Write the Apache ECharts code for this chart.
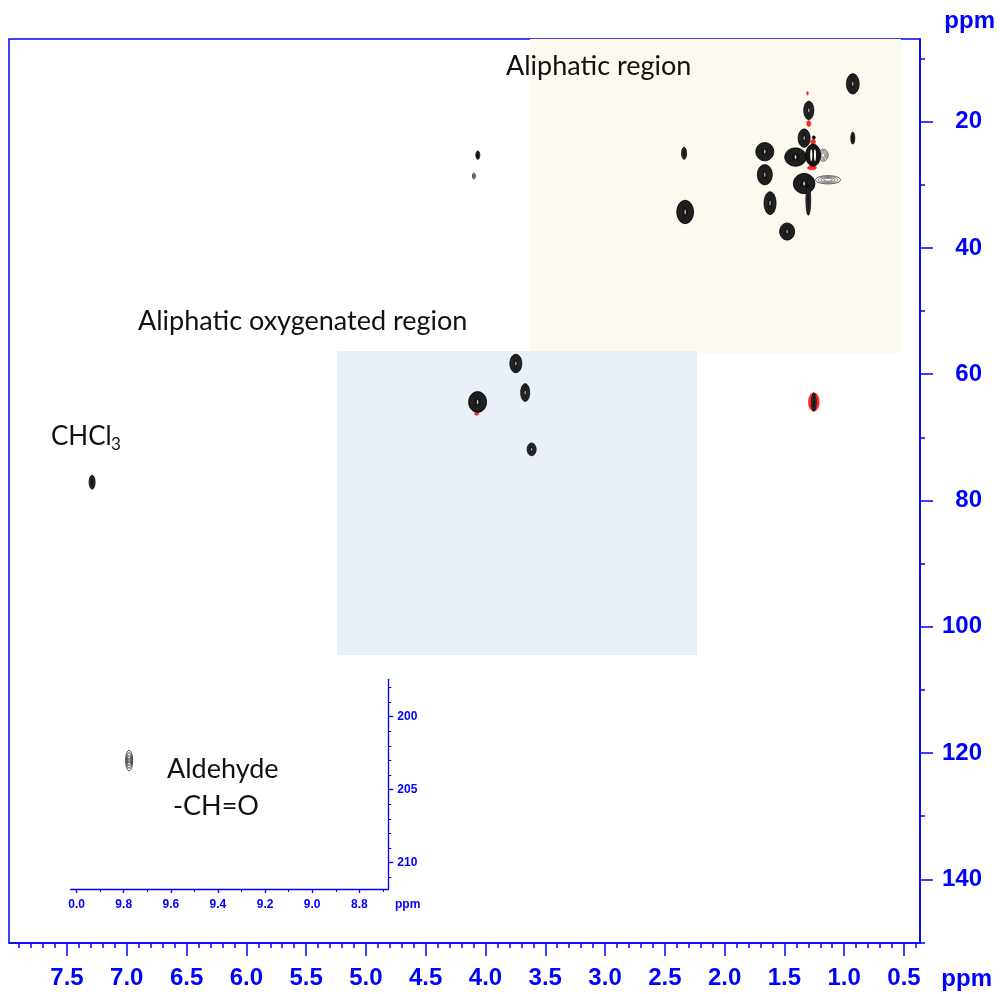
<!DOCTYPE html>
<html>
<head>
<meta charset="utf-8">
<title>HSQC spectrum</title>
<script src="https://cdn.jsdelivr.net/npm/echarts@6/dist/echarts.min.js"></script>
<style>
  html, body { margin: 0; padding: 0; background: #fff; }
  #chart { width: 1000px; height: 994px; }
</style>
</head>
<body>
<div id="chart"></div>
<script>
// ---- Axis ranges (ppm) ----
const hRange = [0.366, 7.985];          // 1H, main panel
const cRange = [6.9, 150.09];           // 13C, main panel
const hTicks = [0.5, 1.0, 1.5, 2.0, 2.5, 3.0, 3.5, 4.0, 4.5, 5.0, 5.5, 6.0, 6.5, 7.0, 7.5];
const cTicks = [20, 40, 60, 80, 100, 120, 140];
const cMinorTicks = [10, 30, 50, 70, 90, 110, 130, 150];

const hRangeInset = [8.677, 10.025];    // 1H, aldehyde panel
const cRangeInset = [197.44, 211.8];    // 13C, aldehyde panel
const hTicksInset = [8.8, 9.0, 9.2, 9.4, 9.6, 9.8, 10.0];
const cTicksInset = [200, 205, 210];

// minor tick positions: every 0.1 ppm (main) / 1 ppm and 0.1 ppm (inset)
const hMinorTicks = [];
for (let i = 4; i <= 79; i++) if (i % 5 !== 0) hMinorTicks.push(i / 10);
const hMinorTicksInset = [];
for (let i = 87; i <= 100; i++) if (i % 2 !== 0) hMinorTicksInset.push(i / 10);
const cMinorTicksInset = [];
for (let v = 198; v <= 211; v++) if (v % 5 !== 0) cMinorTicksInset.push(v);

// ---- Shaded regions [1H from, 1H to, 13C from, 13C to] ----
const aliphaticBox = [3.628, 0.525, 6.9, 56.64];
const oxygenatedBox = [5.242, 2.231, 56.3, 104.48];

// ---- Cross peaks [1H ppm, 13C ppm, 1H width, 13C width] ----
const positivePeaks = [
  [0.928, 14.0, 0.106, 3.2],
  [0.928, 22.6, 0.033, 1.9],
  [1.296, 18.2, 0.084, 2.9],
  [1.335, 22.6, 0.10, 2.9],
  [1.254, 22.5, 0.025, 0.5],
  [1.407, 25.6, 0.18, 2.9],
  [1.664, 24.75, 0.15, 2.9],
  [2.339, 25.0, 0.042, 1.9],
  [1.664, 28.4, 0.125, 3.2],
  [1.335, 29.8, 0.18, 3.2],
  [1.30, 32.4, 0.04, 4.8],
  [1.62, 32.9, 0.10, 3.6],
  [2.33, 34.3, 0.14, 3.7],
  [1.477, 37.4, 0.125, 2.7],
  [4.064, 25.3, 0.033, 1.3],
  [3.746, 58.3, 0.10, 2.9],
  [3.668, 62.9, 0.075, 2.8],
  [4.066, 64.4, 0.15, 3.3],
  [3.614, 71.9, 0.075, 2.0],
  [1.254, 64.4, 0.04, 2.85],
  [7.29, 77.1, 0.05, 2.2]
];
const hollowPeaks = [
  [1.26, 25.3, 0.125, 3.5]
];
const weakPeaks = [
  [1.175, 25.3, 0.08, 1.9],
  [1.135, 29.2, 0.21, 1.3],
  [4.097, 28.6, 0.025, 1.0]
];
const negativePeaks = [
  [1.307, 15.5, 0.013, 0.6],
  [1.296, 20.3, 0.035, 0.95],
  [1.26, 23.2, 0.04, 0.8],
  [1.27, 27.3, 0.075, 0.65],
  [4.074, 66.3, 0.035, 0.4],
  [1.254, 64.4, 0.09, 2.9]
];
const aldehydePeaks = [
  [9.777, 203.0, 0.03, 1.4]
];

// ---- Styling ----
const blue = '#0000ff';
const axisFont = 'Liberation Sans';
const noteFont = 'Lato';

function ellipsePoints(cx, cy, rx, ry) {
  const pts = [];
  const n = 40;
  for (let i = 0; i < n; i++) {
    const t = (i / n) * Math.PI * 2;
    pts.push([cx + rx * Math.cos(t), cy + ry * Math.sin(t)]);
  }
  return pts;
}

// Draws a cross peak as a stack of contour ellipses
function contourRenderer(kind) {
  return function (params, api) {
    const ctr = api.coord([api.value(0), api.value(1)]);
    const sz = api.size([api.value(2), api.value(3)]);
    const rx = Math.max(sz[0] / 2, 0.8);
    const ry = Math.max(sz[1] / 2, 0.8);
    const cx = ctr[0], cy = ctr[1];
    const children = [];
    const ring = (s, stroke, lw, fill) => children.push({
      type: 'polygon',
      shape: { points: ellipsePoints(cx, cy, rx * s, ry * s) },
      style: { fill: fill || 'none', stroke: stroke, lineWidth: lw }
    });
    if (kind === 'positive') {
      ring(1, '#000', 0.8, '#151515');
      [0.82, 0.64, 0.46].forEach(s => { if (rx * s > 1.5) ring(s, 'rgba(85,85,85,0.55)', 0.6); });
      if (rx > 3) {
        children.push({
          type: 'polygon',
          shape: { points: ellipsePoints(cx, cy, Math.max(rx * 0.08, 0.6), ry * 0.22) },
          style: { fill: 'rgba(235,235,235,0.85)' }
        });
      }
    } else if (kind === 'hollow') {
      ring(1, '#000', 0.8, '#151515');
      children.push({
        type: 'polygon',
        shape: { points: ellipsePoints(cx - rx * 0.25, cy, rx * 0.14, ry * 0.55) },
        style: { fill: '#fdf9f0' }
      });
      children.push({
        type: 'polygon',
        shape: { points: ellipsePoints(cx + rx * 0.25, cy, rx * 0.14, ry * 0.55) },
        style: { fill: '#fdf9f0' }
      });
    } else if (kind === 'weak') {
      ring(1, '#333', 0.8, 'rgba(255,255,255,0.85)');
      [0.78, 0.56, 0.34].forEach(s => ring(s, '#444', 0.7));
    } else if (kind === 'negative') {
      ring(1, '#ff1a1a', 0.6, '#ff2a2a');
    } else if (kind === 'inset') {
      [1, 0.75, 0.5, 0.25].forEach(s => ring(s, '#111', 0.8));
    }
    return { type: 'group', children: children };
  };
}

function boxRenderer(color) {
  return function (params, api) {
    const p1 = api.coord([api.value(0), api.value(2)]);
    const p2 = api.coord([api.value(1), api.value(3)]);
    return {
      type: 'rect',
      shape: {
        x: Math.min(p1[0], p2[0]), y: Math.min(p1[1], p2[1]),
        width: Math.abs(p2[0] - p1[0]), height: Math.abs(p2[1] - p1[1])
      },
      style: { fill: color }
    };
  };
}

function majorX(grid, range, ticks, opts) {
  return {
    gridIndex: grid, type: 'value', position: 'bottom', inverse: true,
    min: range[0], max: range[1],
    axisLine: { show: true, onZero: false, lineStyle: { color: blue, width: opts.lw } },
    axisTick: { show: true, length: opts.tick, customValues: ticks, lineStyle: { color: blue, width: opts.lw } },
    axisLabel: {
      show: true, customValues: ticks, margin: opts.margin, formatter: opts.fmt,
      color: blue, fontFamily: axisFont, fontWeight: 'bold', fontSize: opts.fs
    },
    splitLine: { show: false }
  };
}
function minorX(grid, range, ticks, opts) {
  return {
    gridIndex: grid, type: 'value', position: 'bottom', inverse: true,
    min: range[0], max: range[1],
    axisLine: { show: false, onZero: false },
    axisTick: { show: true, length: opts.tick, customValues: ticks, lineStyle: { color: blue, width: opts.lw } },
    axisLabel: { show: false },
    splitLine: { show: false }
  };
}
function majorY(grid, range, ticks, opts) {
  return {
    gridIndex: grid, type: 'value', position: 'right', inverse: true,
    min: range[0], max: range[1],
    axisLine: { show: true, onZero: false, lineStyle: { color: blue, width: opts.lw } },
    axisTick: { show: true, length: opts.tick, customValues: ticks, lineStyle: { color: blue, width: opts.lw } },
    axisLabel: {
      show: true, customValues: ticks, margin: opts.margin, align: opts.align,
      formatter: v => String(Math.round(v)),
      color: blue, fontFamily: axisFont, fontWeight: 'bold', fontSize: opts.fs
    },
    splitLine: { show: false }
  };
}
function minorY(grid, range, ticks, opts) {
  return {
    gridIndex: grid, type: 'value', position: 'right', inverse: true,
    min: range[0], max: range[1],
    axisLine: { show: false, onZero: false },
    axisTick: { show: true, length: opts.tick, customValues: ticks, lineStyle: { color: blue, width: opts.lw } },
    axisLabel: { show: false },
    splitLine: { show: false }
  };
}

function peakSeries(data, kind, xi, yi, z) {
  return {
    type: 'custom', xAxisIndex: xi, yAxisIndex: yi, z: z,
    renderItem: contourRenderer(kind),
    encode: { x: 0, y: 1 },
    data: data, silent: true
  };
}

const note = (text, x, y, size) => ({
  type: 'text', x: x, y: y, z: 100, silent: true,
  style: {
    text: text, fill: '#111', font: size + 'px ' + noteFont,
    align: 'left', verticalAlign: 'middle', textAlign: 'left', textVerticalAlign: 'middle'
  }
});
const unitLabel = (x, y, size) => ({
  type: 'text', x: x, y: y, z: 100, silent: true,
  style: {
    text: 'ppm', fill: blue, font: 'bold ' + size + 'px ' + axisFont,
    align: 'right', verticalAlign: 'middle', textAlign: 'right', textVerticalAlign: 'middle'
  }
});

const chart = echarts.init(document.getElementById('chart'), null, { renderer: 'canvas' });
chart.setOption({
  animation: false,
  backgroundColor: '#ffffff',
  grid: [
    { left: 9, top: 39, width: 911, height: 904, show: true, borderColor: blue, borderWidth: 1.5, backgroundColor: 'transparent' },
    { left: 70.7, top: 679.3, width: 317.6, height: 209.7, show: false }
  ],
  xAxis: [
    majorX(0, hRange, hTicks, { lw: 1.5, tick: 13, margin: 23, fs: 24, fmt: v => v.toFixed(1) }),
    minorX(0, hRange, hMinorTicks, { lw: 1.5, tick: 5 }),
    majorX(1, hRangeInset, hTicksInset, { lw: 1.3, tick: 4, margin: 10, fs: 12, fmt: v => v.toFixed(1).slice(-3) }),
    minorX(1, hRangeInset, hMinorTicksInset, { lw: 1, tick: 3 })
  ],
  yAxis: [
    majorY(0, cRange, cTicks, { lw: 1.5, tick: 13, margin: 62, align: 'right', fs: 24 }),
    minorY(0, cRange, cMinorTicks, { lw: 1.5, tick: 5 }),
    majorY(1, cRangeInset, cTicksInset, { lw: 1.3, tick: 5, margin: 9, align: 'left', fs: 12 }),
    minorY(1, cRangeInset, cMinorTicksInset, { lw: 1, tick: 3 })
  ],
  series: [
    { type: 'custom', xAxisIndex: 0, yAxisIndex: 0, z: 1, silent: true,
      renderItem: boxRenderer('#fdf9f0'), encode: { x: [0, 1], y: [2, 3] }, data: [aliphaticBox] },
    { type: 'custom', xAxisIndex: 0, yAxisIndex: 0, z: 1, silent: true,
      renderItem: boxRenderer('#e9f0f8'), encode: { x: [0, 1], y: [2, 3] }, data: [oxygenatedBox] },
    peakSeries(negativePeaks, 'negative', 0, 0, 2),
    peakSeries(weakPeaks, 'weak', 0, 0, 3),
    peakSeries(positivePeaks, 'positive', 0, 0, 4),
    peakSeries(hollowPeaks, 'hollow', 0, 0, 5),
    peakSeries(aldehydePeaks, 'inset', 2, 2, 4)
  ],
  graphic: [
    note('Aliphatic region', 506, 66, 27),
    note('Aliphatic oxygenated region', 138, 321, 27),
    note('CHCl', 51, 437, 26),
    note('3', 111, 445, 17),
    note('Aldehyde', 167, 769, 27),
    note('-CH=O', 173, 806, 27),
    unitLabel(995, 21, 24),
    unitLabel(992, 979, 24),
    {
      type: 'text', x: 395, y: 905, z: 100, silent: true,
      style: { text: 'ppm', fill: blue, font: 'bold 12px ' + axisFont, align: 'left', verticalAlign: 'middle', textAlign: 'left', textVerticalAlign: 'middle' }
    }
  ]
});
</script>
</body>
</html>
